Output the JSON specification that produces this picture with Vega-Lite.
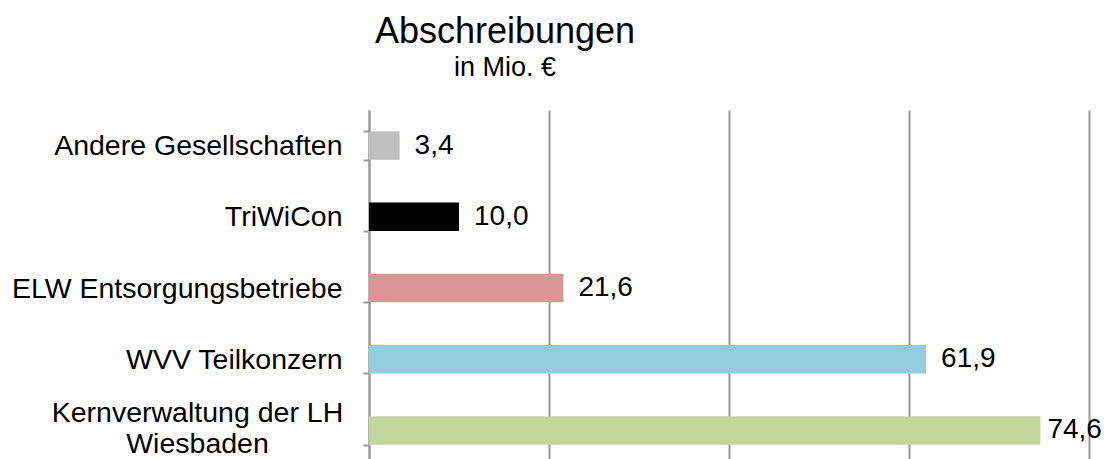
{
  "$schema": "https://vega.github.io/schema/vega-lite/v6.json",
  "width": 720,
  "height": 356,
  "autosize": "none",
  "padding": {"left": 369, "top": 110, "right": 18, "bottom": 0},
  "background": "white",
  "config": {
    "view": {"stroke": null},
    "font": "Liberation Sans",
    "locale": {"number": {"decimal": ",", "thousands": ".", "grouping": [3], "currency": ["", " €"]}}
  },
  "title": {
    "text": "Abschreibungen",
    "subtitle": "in Mio. €",
    "anchor": "middle",
    "dx": -224,
    "offset": 14,
    "fontSize": 36,
    "fontWeight": "normal",
    "color": "#000000",
    "subtitleFontSize": 27,
    "subtitleColor": "#000000",
    "subtitlePadding": 4,
    "font": "Liberation Sans",
    "subtitleFont": "Liberation Sans"
  },
  "data": {
    "values": [
      {"Unternehmen": "Andere Gesellschaften", "Wert": 3.4},
      {"Unternehmen": "TriWiCon", "Wert": 10.0},
      {"Unternehmen": "ELW Entsorgungsbetriebe", "Wert": 21.6},
      {"Unternehmen": "WVV Teilkonzern", "Wert": 61.9},
      {"Unternehmen": "Kernverwaltung der LH Wiesbaden", "Wert": 74.6}
    ]
  },
  "encoding": {
    "y": {
      "field": "Unternehmen",
      "type": "nominal",
      "sort": null,
      "scale": {"paddingInner": 0.6, "paddingOuter": 0.3},
      "axis": {
        "title": null,
        "domainColor": "#999999",
        "domainWidth": 2,
        "tickColor": "#999999",
        "tickWidth": 2,
        "tickSize": 6,
        "tickBand": "extent",
        "labelFontSize": 28.5,
        "labelColor": "#000000",
        "labelLimit": 400,
        "labelLineHeight": 31,
        "labelAlign": {"condition": {"test": "datum.value == 'Kernverwaltung der LH Wiesbaden'", "value": "center"}, "value": "right"},
        "labelPadding": {"condition": {"test": "datum.value == 'Kernverwaltung der LH Wiesbaden'", "value": 166}, "value": 21},
        "labelOffset": {"condition": {"test": "datum.value == 'Kernverwaltung der LH Wiesbaden'", "value": -18}, "value": 0},
        "labelExpr": "datum.label == 'Kernverwaltung der LH Wiesbaden' ? ['Kernverwaltung der LH', 'Wiesbaden'] : datum.label"
      }
    },
    "x": {
      "field": "Wert",
      "type": "quantitative",
      "scale": {"domain": [0, 80], "nice": false},
      "axis": {
        "title": null,
        "values": [0, 20, 40, 60, 80],
        "labels": false,
        "ticks": false,
        "domain": false,
        "grid": true,
        "gridColor": "#999999",
        "gridWidth": 2
      }
    }
  },
  "layer": [
    {
      "mark": {"type": "bar"},
      "encoding": {
        "color": {
          "field": "Unternehmen",
          "type": "nominal",
          "legend": null,
          "scale": {
            "domain": ["Andere Gesellschaften", "TriWiCon", "ELW Entsorgungsbetriebe", "WVV Teilkonzern", "Kernverwaltung der LH Wiesbaden"],
            "range": ["#bfbfbf", "#000000", "#d99694", "#93cddd", "#c3d69b"]
          }
        }
      }
    },
    {
      "transform": [{"filter": "datum.Wert < 70"}],
      "mark": {"type": "text", "align": "left", "baseline": "middle", "dx": 15, "fontSize": 28, "color": "#000000"},
      "encoding": {
        "text": {"field": "Wert", "type": "quantitative", "format": ".1f"}
      }
    },
    {
      "transform": [{"filter": "datum.Wert >= 70"}],
      "mark": {"type": "text", "align": "left", "baseline": "middle", "dx": 7, "fontSize": 28, "color": "#000000"},
      "encoding": {
        "text": {"field": "Wert", "type": "quantitative", "format": ".1f"}
      }
    }
  ]
}
